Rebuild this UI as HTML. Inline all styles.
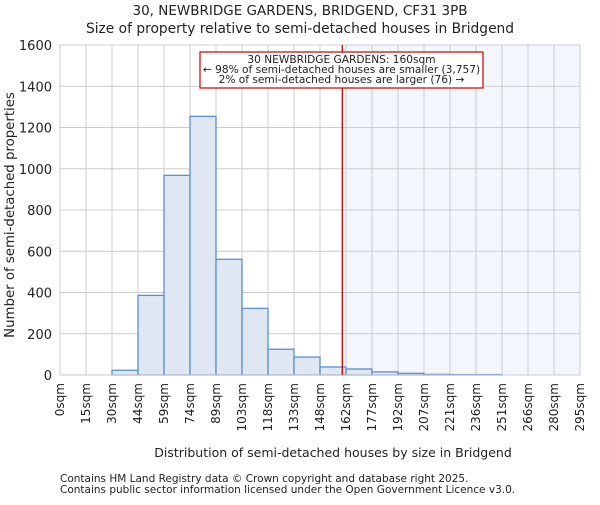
<!DOCTYPE html>
<html><head><meta charset="utf-8"><style>
body{margin:0;background:#fff;font-family:"Liberation Sans","DejaVu Sans",sans-serif}
svg text{font-family:"DejaVu Sans","Liberation Sans",sans-serif;fill:#222}
</style></head><body>
<svg id="c" width="600" height="500" viewBox="0 0 600 500">
<text x="300" y="15" text-anchor="middle" font-size="13.5">30, NEWBRIDGE GARDENS, BRIDGEND, CF31 3PB</text>
<text x="300" y="33" text-anchor="middle" font-size="13.8">Size of property relative to semi-detached houses in Bridgend</text>
<g id="plot"></g>
<text x="333" y="457" text-anchor="middle" font-size="12.5">Distribution of semi-detached houses by size in Bridgend</text>
<text x="14" y="215" text-anchor="middle" font-size="13.3" transform="rotate(-90 14 215)">Number of semi-detached properties</text>
<text x="60" y="482" font-size="10.5">Contains HM Land Registry data © Crown copyright and database right 2025.</text>
<text x="60" y="493" font-size="10.5">Contains public sector information licensed under the Open Government Licence v3.0.</text>
</svg>
<script>
const binLabels=["0sqm","15sqm","30sqm","44sqm","59sqm","74sqm","89sqm","103sqm","118sqm","133sqm","148sqm","162sqm","177sqm","192sqm","207sqm","221sqm","236sqm","251sqm","266sqm","280sqm","295sqm"];
const counts=[0,0,23,386,968,1254,561,323,125,87,39,29,15,8,3,2,2,0,0,0];
const yTicks=[0,200,400,600,800,1000,1200,1400,1600];
const propertySize=160;
const binEdges=[0,15,30,44,59,74,89,103,118,133,148,162,177,192,207,221,236,251,266,280,295];
const NS="http://www.w3.org/2000/svg";
const X0=60,X1=580,Y0=375,Y1=45,YMAX=1600;
const bw=(X1-X0)/counts.length;
const xi=i=>X0+i*bw;
const y=v=>Y0-(v/YMAX)*(Y0-Y1);
function xv(v){for(let i=0;i<binEdges.length-1;i++){if(v<=binEdges[i+1])return xi(i)+bw*(v-binEdges[i])/(binEdges[i+1]-binEdges[i]);}return X1;}
const g=document.getElementById('plot');
function mk(t,a){const e=document.createElementNS(NS,t);for(const k in a)e.setAttribute(k,a[k]);g.appendChild(e);return e;}
let si=binEdges.findIndex(e=>e>=propertySize);
let hr=mk('rect',{x:xi(si),y:Y1,width:X1-xi(si),height:Y0-Y1,fill:'#f3f6fd'});


yTicks.forEach(t=>{let l=mk('line',{x1:X0,x2:X1,y1:y(t),y2:y(t),stroke:'#cccccc','stroke-width':1});


let tx=mk('text',{x:X0-8,y:y(t)+5,'text-anchor':'end','font-size':13});tx.textContent=t;

});
binLabels.forEach((lb,i)=>{let l=mk('line',{x1:xi(i),x2:xi(i),y1:Y1,y2:Y0,stroke:'#cccccc','stroke-width':1});


let tx=mk('text',{x:xi(i)+4,y:Y0+8,'text-anchor':'end','font-size':12,transform:`rotate(-90 ${xi(i)+4} ${Y0+8})`});tx.textContent=lb;

});
counts.forEach((c,i)=>{if(c<=0)return;let r=mk('rect',{x:xi(i),y:y(c),width:bw,height:Y0-y(c),fill:'#dfe7f3',stroke:'#5b8fd4','stroke-width':1.3});

});
let fr=mk('rect',{x:X0,y:Y1,width:X1-X0,height:Y0-Y1,fill:'none',stroke:'#cccccc','stroke-width':1});


let px=xv(propertySize);
let ml=mk('line',{x1:px,x2:px,y1:Y1,y2:Y0,stroke:'#cc0000','stroke-width':1.3});


let ab=mk('rect',{x:200,y:52,width:283,height:36,fill:'#fff',stroke:'#cc0000','stroke-width':1.2});


["30 NEWBRIDGE GARDENS: 160sqm","← 98% of semi-detached houses are smaller (3,757)","2% of semi-detached houses are larger (76) →"].forEach((s,k)=>{
let t=mk('text',{x:341.5,y:63+k*10,'text-anchor':'middle','font-size':10.6});t.textContent=s;

});
</script>
</body></html>
